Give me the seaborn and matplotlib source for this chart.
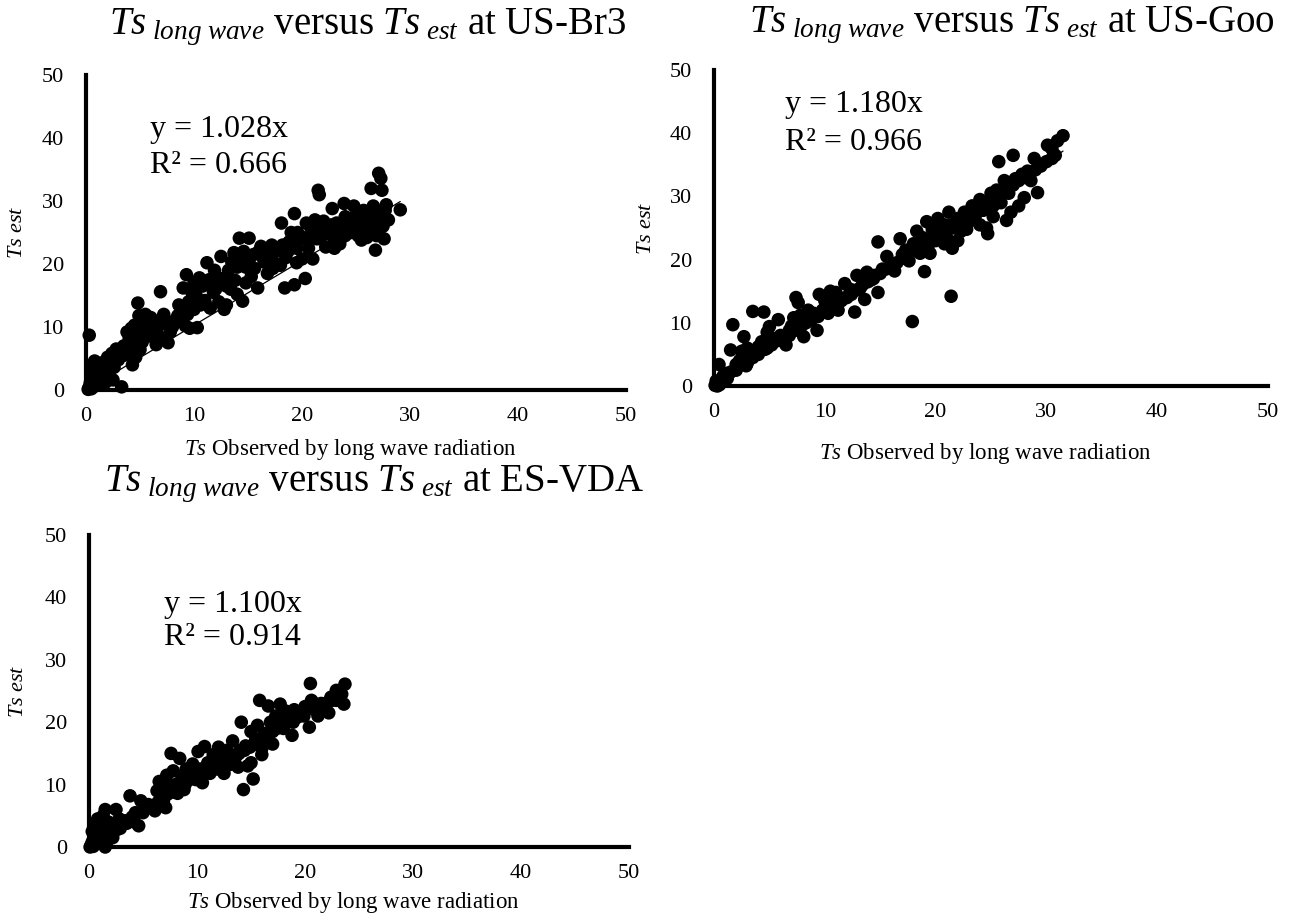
import numpy as np
import pandas as pd
import matplotlib
matplotlib.use("Agg")
import matplotlib.pyplot as plt
import seaborn as sns

sns.set_style("white")
plt.rcParams['font.family'] = ['Liberation Serif', 'DejaVu Serif']
plt.rcParams['mathtext.fontset'] = 'custom'
plt.rcParams['mathtext.rm'] = 'Liberation Serif'
plt.rcParams['mathtext.it'] = 'Liberation Serif:italic'
plt.rcParams['text.color'] = 'black'
plt.rcParams['axes.labelcolor'] = 'black'

# ---- data ----
sites = ["US-Br3", "US-Goo", "ES-VDA"]
slopes = [1.028, 1.180, 1.100]
r2 = [0.666, 0.966, 0.914]

br3_x = [0.2, 0.3, 0.5, 0.4, 0.8, 1.0, 0.6, 1.2, 1.5, 1.8, 2.2, 2.5, 0.5, 0.8, 1.2, 1.6, 2.0, 2.4, 2.8, 3.2,
         0.3, 3.3, 1.0, 2.0,
         3.5, 3.8, 4.2, 4.5, 4.0, 4.3, 4.6, 5.0, 5.2, 5.5, 5.8, 6.0, 6.3, 6.6, 7.0, 7.3, 7.6, 4.9, 4.8, 6.9,
         5.5, 6.5, 7.8, 8.0,
         8.5, 8.8, 9.0, 9.3, 9.5, 9.2, 9.6, 10.3, 10.0, 10.2, 10.5, 10.8, 11.0, 11.2, 11.5, 11.8, 12.0, 12.3,
         12.5, 12.8, 10.0, 9.8,
         13.0, 13.2, 13.5, 13.8, 14.0, 14.2, 14.5, 14.6, 14.8, 15.1, 15.3, 15.5, 15.9, 16.2, 16.5, 16.8, 17.0,
         17.3, 17.6, 13.0, 12.0,
         17.8, 18.1, 18.4, 18.5, 18.8, 19.0, 19.3, 19.3, 19.5, 19.8, 20.0, 20.3, 20.4, 20.6, 20.8, 21.0, 21.2,
         21.5, 21.6, 21.8, 22.0, 22.2, 18.0, 19.5,
         22.5, 22.8, 23.0, 23.2, 23.5, 23.9, 24.2, 24.5, 24.8, 25.0, 25.2, 25.5, 25.8, 26.0, 26.2, 26.4, 26.6,
         26.8, 27.0, 27.1, 27.3, 27.4, 27.6, 27.8, 27.5, 29.1, 28.0, 26.5, 24.0, 23.0]
br3_y = [0.1, 0.5, 0.2, 1.2, 0.6, 1.5, 2.5, 0.8, 2.0, 1.2, 1.8, 1.6, 4.0, 4.6, 4.0, 4.4, 5.2, 5.8, 6.5, 5.6,
         8.7, 0.5, 3.2, 3.0,
         7.0, 9.2, 9.8, 10.3, 8.2, 4.0, 5.2, 6.4, 7.6, 8.8, 10.8, 11.5, 10.2, 9.0, 10.5, 8.0, 7.5, 11.8, 13.8, 15.6,
         12.0, 7.2, 9.2, 10.0,
         11.8, 12.4, 16.2, 18.3, 14.0, 10.2, 9.8, 9.9, 12.8, 15.0, 17.8, 16.5, 14.2, 20.2, 13.0, 15.5, 18.0, 14.0,
         21.2, 12.8, 17.0, 15.5,
         16.5, 19.0, 20.3, 17.4, 15.2, 24.1, 14.1, 22.0, 19.5, 24.1, 18.0, 21.5, 16.2, 22.8, 20.3, 18.5, 22.5,
         19.3, 20.0, 13.5, 16.0,
         22.2, 26.5, 16.2, 21.0, 23.5, 25.0, 28.0, 16.7, 22.5, 24.0, 20.8, 17.7, 26.5, 23.5, 25.8, 20.8, 27.0,
         31.7, 31.0, 24.5, 26.8, 22.7, 19.8, 20.2,
         25.5, 28.8, 24.0, 26.5, 23.2, 29.6, 27.0, 25.0, 29.2, 26.5, 24.5, 27.8, 25.8, 24.2, 28.2, 32.0, 29.2,
         22.2, 26.5, 34.4, 33.6, 31.7, 24.0, 29.4, 26.0, 28.6, 27.0, 25.0, 24.5, 22.5]
# more points filling the dense band
br3_x2 = [1.5, 2.0, 2.6, 3.0, 3.5, 3.9, 4.4, 5.0, 5.4, 5.9, 6.2, 6.8, 7.2, 7.5, 8.2, 8.6, 9.0, 9.4, 9.9,
          10.6, 11.0, 11.4, 11.9, 12.2, 12.6, 13.0, 13.4, 13.7, 14.0, 14.4, 14.8, 15.2, 15.6, 16.0, 16.4,
          16.9, 17.2, 17.6, 18.2, 18.7, 19.1, 19.6, 20.1, 20.6, 21.0, 21.4, 21.9, 22.3, 22.7, 23.1, 23.6,
          24.0, 24.4, 24.9, 25.3, 25.7, 26.1, 26.5, 27.0, 27.7, 26.9, 25.5]
br3_y2 = [3.0, 4.2, 3.6, 4.8, 5.5, 6.5, 7.2, 9.0, 10.0, 9.5, 8.4, 11.0, 12.0, 10.8, 11.0, 13.5, 13.2, 12.0,
          14.0, 13.5, 16.8, 17.5, 19.0, 16.8, 17.6, 18.0, 16.0, 21.8, 19.5, 20.8, 17.0, 21.0, 19.3, 22.0,
          21.0, 21.2, 23.0, 22.0, 23.0, 22.0, 23.8, 25.0, 24.2, 22.5, 25.2, 24.0, 25.5, 24.8, 26.2, 25.2,
          26.0, 27.5, 26.2, 27.5, 26.5, 28.5, 26.8, 27.5, 28.0, 28.5, 24.5, 23.8]

goo_x = [0.1, 0.2, 0.3, 0.4, 0.2, 0.5, 0.45, 0.8, 1.0, 1.2, 1.5, 1.7, 2.0, 2.3, 2.7, 2.9, 2.5, 3.0, 3.2, 3.5,
         3.8, 4.0, 4.3, 4.5, 4.6, 4.8, 5.0, 5.2, 5.5, 5.8, 6.0, 6.2, 6.5, 6.8, 7.0, 7.2, 7.4, 7.6, 7.8, 8.1,
         8.3, 8.5, 8.8, 9.0, 9.3, 9.5, 9.8, 10.0, 10.3, 10.5, 10.8, 11.0, 11.2, 11.5, 11.8, 12.0, 12.3, 12.7,
         12.9, 13.2, 13.6, 13.8, 14.2, 14.5, 14.8, 14.8, 15.2, 15.6, 16.0, 16.3, 16.8, 17.0, 17.3, 17.6, 17.9,
         18.0, 18.3, 18.6, 18.8, 19.0, 19.2, 19.4, 19.7, 20.0, 20.2, 20.5, 20.8, 21.0, 21.2, 21.4, 21.5, 21.7,
         22.0, 22.3, 22.6, 23.0, 23.3, 23.6, 24.0, 24.3, 24.7, 25.0, 25.2, 25.5, 25.7, 25.9, 26.2, 26.4, 26.6,
         27.0, 27.2, 27.5, 27.8, 28.0, 28.3, 28.6, 28.9, 29.2, 29.5, 30.1, 30.5, 30.8, 31.0, 31.5, 24.0, 22.0,
         19.5]
goo_y = [0.1, 0.3, 0.0, 0.6, 0.8, 0.2, 3.4, 1.5, 2.0, 1.2, 5.7, 9.7, 3.4, 4.0, 7.8, 3.2, 5.5, 6.0, 4.8, 11.8,
         5.5, 6.2, 7.0, 11.7, 5.8, 8.5, 9.4, 6.5, 7.5, 10.5, 8.0, 7.2, 6.5, 8.8, 9.5, 10.8, 14.0, 13.2, 11.2, 7.8,
         10.0, 12.0, 10.5, 11.5, 8.8, 14.5, 12.0, 13.5, 11.5, 15.0, 13.0, 14.8, 12.0, 13.5, 16.2, 14.0, 15.3, 11.7,
         17.5, 15.5, 13.7, 18.0, 16.8, 17.5, 22.8, 14.8, 18.5, 20.5, 19.0, 18.2, 23.3, 20.8, 21.5, 19.8, 10.2,
         22.5, 24.5, 21.0, 23.5, 18.1, 26.0, 22.5, 24.8, 23.0, 26.5, 24.0, 25.5, 23.5, 27.5, 14.2, 21.8, 25.0,
         26.5, 24.5, 27.5, 26.0, 28.5, 27.0, 29.5, 27.8, 24.1, 30.5, 28.5, 31.0, 35.5, 29.0, 32.5, 26.2, 30.5,
         36.5, 32.8, 28.5, 33.5, 29.8, 34.0, 32.5, 36.0, 30.6, 35.0, 38.1, 37.5, 36.5, 38.8, 39.6, 25.5, 23.0,
         21.0]
goo_x2 = [1.0, 1.5, 2.0, 3.0, 3.5, 4.0, 4.8, 5.3, 5.8, 6.3, 6.8, 7.3, 7.9, 8.4, 8.9, 9.4, 9.9, 10.4, 10.9,
          11.4, 11.9, 12.4, 12.9, 13.4, 13.9, 14.4, 15.0, 15.5, 16.0, 16.5, 17.0, 17.5, 18.0, 18.5, 19.0,
          19.5, 20.0, 20.5, 21.0, 21.5, 22.0, 22.5, 23.0, 23.5, 24.0, 24.5, 25.0, 25.5, 26.0, 26.5, 27.0,
          27.5, 28.0, 28.5, 29.0, 29.5, 30.0, 30.5, 24.6, 25.2, 26.8, 22.8, 20.8]
goo_y2 = [1.0, 2.2, 2.5, 3.6, 4.5, 5.0, 6.0, 6.8, 7.2, 7.8, 8.0, 8.8, 9.5, 10.2, 10.8, 11.0, 12.0, 12.5, 12.8,
          13.5, 14.0, 14.5, 15.2, 16.0, 16.5, 17.0, 17.8, 18.5, 19.0, 19.5, 20.2, 20.8, 21.5, 22.0, 22.5,
          23.2, 23.8, 24.5, 25.0, 25.5, 26.0, 26.8, 27.2, 27.8, 28.2, 29.0, 29.5, 30.0, 30.8, 31.3, 31.8,
          32.5, 33.0, 33.8, 34.2, 34.8, 35.5, 36.0, 25.0, 26.8, 27.5, 24.8, 22.5]

vda_x = [0.1, 0.2, 0.3, 0.4, 0.5, 0.3, 0.6, 0.8, 0.9, 1.0, 1.2, 1.3, 1.5, 1.5, 1.6, 1.8, 2.0, 2.2, 2.5, 2.6,
         2.8, 3.0, 3.3, 3.8, 4.0, 4.3, 4.6, 4.8, 5.2, 5.5, 6.1, 6.3, 6.5, 6.7, 7.1, 7.2, 7.4, 7.6, 7.8, 8.0,
         8.2, 8.4, 8.6, 8.8, 9.0, 9.3, 9.6, 9.8, 10.1, 10.3, 10.5, 10.7, 11.0, 11.2, 11.5, 11.8, 12.0, 12.3,
         12.5, 12.8, 13.0, 13.3, 13.6, 13.8, 14.1, 14.3, 14.5, 14.7, 15.0, 15.2, 15.4, 15.6, 15.8, 16.0, 16.3,
         16.6, 16.8, 17.0, 17.3, 17.7, 17.9, 18.2, 18.5, 18.8, 19.0, 19.3, 19.6, 20.0, 20.4, 20.5, 20.6, 20.9,
         21.2, 21.5, 21.8, 22.2, 22.5, 22.9, 23.2, 23.6, 23.7, 18.0, 16.0, 14.0, 12.0, 10.0]
vda_y = [0.0, 0.3, 0.8, 0.1, 1.5, 2.5, 3.5, 4.5, 2.0, 0.8, 3.0, 5.0, 6.0, 0.0, 2.2, 4.0, 3.2, 1.5, 6.0, 2.8,
         4.5, 3.5, 4.2, 8.2, 4.8, 5.5, 3.4, 7.4, 6.2, 6.8, 5.8, 9.0, 10.5, 8.0, 6.3, 11.5, 9.5, 15.0, 12.2, 10.0,
         8.6, 14.2, 11.0, 9.2, 12.5, 10.8, 13.3, 11.5, 15.3, 12.5, 10.3, 16.1, 13.5, 11.8, 14.8, 12.5, 16.0, 14.0,
         11.8, 15.5, 13.2, 17.0, 14.5, 12.8, 20.0, 9.2, 16.2, 13.0, 18.5, 10.9, 17.0, 19.5, 23.5, 15.8, 18.2,
         22.6, 20.0, 18.5, 21.0, 22.9, 19.5, 21.8, 20.5, 17.9, 22.0, 20.8, 21.5, 22.5, 19.2, 26.2, 23.5, 22.0,
         21.0, 23.0, 22.2, 21.5, 23.5, 25.1, 24.0, 22.9, 26.1, 19.0, 17.5, 15.5, 13.5, 11.5]
vda_x2 = [0.7, 1.1, 1.7, 2.3, 2.9, 3.5, 4.2, 5.0, 5.8, 6.4, 6.9, 7.3, 7.9, 8.3, 8.9, 9.4, 9.9, 10.4, 10.9,
          11.4, 11.9, 12.4, 12.9, 13.4, 13.9, 14.4, 14.9, 15.4, 15.9, 16.4, 16.9, 17.4, 17.9, 18.4, 18.9,
          19.4, 19.9, 20.4, 20.9, 21.4, 21.9, 22.4, 22.9, 23.4, 15.0, 16.0, 17.0]
vda_y2 = [1.2, 1.8, 1.0, 2.5, 3.0, 3.8, 4.0, 5.5, 6.5, 7.2, 7.5, 8.5, 8.8, 9.5, 10.0, 11.8, 10.8, 11.5, 12.0,
          12.8, 13.8, 13.2, 14.2, 14.0, 15.0, 15.5, 16.0, 16.5, 17.2, 17.8, 18.5, 19.0, 19.8, 20.5, 20.0,
          21.5, 21.0, 22.5, 23.0, 22.5, 23.0, 24.0, 23.5, 24.5, 13.5, 14.8, 16.5]

series = [(br3_x + br3_x2, br3_y + br3_y2),
          (goo_x + goo_x2, goo_y + goo_y2),
          (vda_x + vda_x2, vda_y + vda_y2)]

fig = plt.figure(figsize=(12.95, 9.21), dpi=100)
W, H = 1295, 921

# axes boxes in pixels: left, right(x=50), bottom(y=0), top(y=50)
boxes = [(86, 626, 390, 75), (714, 1268, 386, 70), (89, 629, 847, 535)]
title_pos = [(0.522, 1.13), (0.538, 1.12), (0.528, 1.14)]
eq_pos = [(5.9, 40.2, 34.4), (6.4, 43.3, 37.3), (6.9, 37.7, 32.4)]
xlab_y = [-0.149, -0.174, -0.138]
ylab_x = [-0.109, -0.105, -0.113]

for i, (site, (xs, ys)) in enumerate(zip(sites, series)):
    l, r, b, t = boxes[i]
    ax = fig.add_axes([l / W, (H - b) / H, (r - l) / W, (b - t) / H])
    df = pd.DataFrame({"x": xs, "y": ys})
    sns.scatterplot(data=df, x="x", y="y", ax=ax, color="black", s=95,
                    edgecolor="none", linewidth=0, zorder=3, clip_on=False)
    xmax = max(xs)
    ax.plot([0, xmax], [0, slopes[i] * xmax], color="black", lw=0.9, zorder=4)

    ax.set_xlim(0, 50)
    ax.set_ylim(0, 50)
    ax.set_xticks(range(0, 51, 10))
    ax.set_yticks(range(0, 51, 10))
    for s in ["top", "right"]:
        ax.spines[s].set_visible(False)
    for s in ["left", "bottom"]:
        ax.spines[s].set_linewidth(3)
        ax.spines[s].set_color("black")
    ax.tick_params(direction="in", length=5, width=2.2, colors="black",
                   labelsize=16, pad=12)
    ax.tick_params(axis="y", pad=16)

    ax.set_xlabel(r"$\mathit{Ts}$ Observed by long wave radiation", fontsize=16.5, color="black")
    ax.set_ylabel(r"$\mathit{Ts\ est}$", fontsize=16, color="black")
    ax.xaxis.set_label_coords(0.49, xlab_y[i])
    ax.yaxis.set_label_coords(ylab_x[i], 0.5)

    ax.text(title_pos[i][0], title_pos[i][1],
            r"$\mathit{Ts}_{\ \mathit{long\ wave}}$ versus $\mathit{Ts}_{\ \mathit{est}}$ at " + site,
            transform=ax.transAxes, ha="center", va="baseline", fontsize=28, color="black")

    ex, ey1, ey2 = eq_pos[i]
    ax.text(ex, ey1, "y = %.3fx" % slopes[i], fontsize=23, va="baseline", ha="left", color="black")
    ax.text(ex, ey2, "R\u00b2 = %.3f" % r2[i], fontsize=23, va="baseline", ha="left", color="black")
    ax.grid(False)

fig.savefig("out.png", dpi=100, facecolor="white")
